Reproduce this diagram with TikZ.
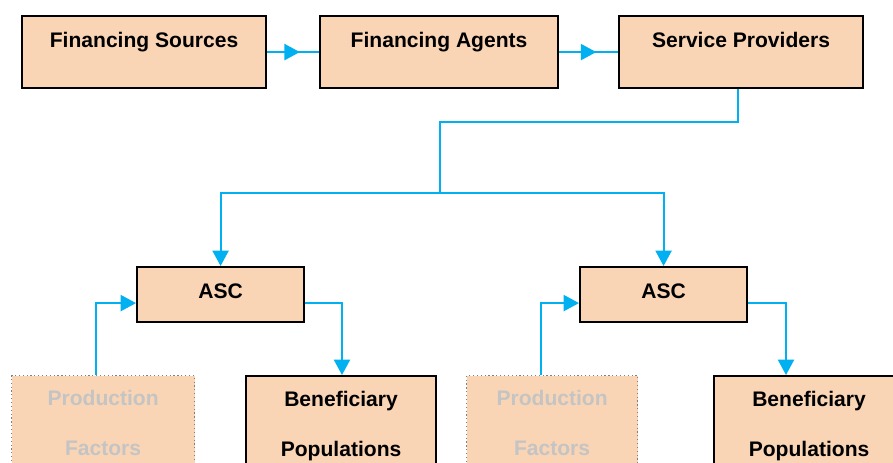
\documentclass[tikz,border=0pt]{standalone}
\usepackage{fontspec}
\setmainfont{Liberation Sans}
\usetikzlibrary{arrows.meta,decorations.markings,calc}

\definecolor{peach}{RGB}{250,213,181}
\definecolor{flowblue}{RGB}{0,176,240}
\definecolor{paletext}{RGB}{196,196,196}

\tikzset{
  box/.style={draw, line width=1.6pt, fill=peach, anchor=north west, inner sep=0pt,
    font=\fontsize{15.8}{37.5}\selectfont\bfseries},
  flatbox/.style={box, text height=23.25pt, text depth=30.75pt},
  ascbox/.style={box, text height=23.25pt, text depth=18pt},
  tallbox/.style={box, align=center, inner ysep=11pt},
  faintbox/.style={tallbox, draw=gray, line width=0.9pt, dotted, text=paletext},
  flow/.style={draw=flowblue, line width=1.5pt, -{Triangle[length=11.5pt,width=12pt]}},
  link/.style={draw=flowblue, line width=1.5pt},
  midarrow/.style={link, postaction={decorate}, decoration={markings,
    mark=at position 0.63 with {\arrow[flowblue]{Triangle[length=11.5pt,width=12pt]}}}}
}

\begin{document}
\begin{tikzpicture}[x=0.75pt, y=-0.75pt]
  \useasboundingbox (0,0) rectangle (893,462);
  \clip (0,0) rectangle (893,462);

  % top row
  \node[flatbox, minimum width=183pt] (src) at (21,15) {Financing Sources};
  \node[flatbox, minimum width=178.5pt] (agt) at (319,15) {Financing Agents};
  \node[flatbox, minimum width=183pt] (prov) at (618,15) {Service Providers};

  % ASC level
  \node[ascbox, minimum width=125.25pt] (ascL) at (136,266) {ASC};
  \node[ascbox, minimum width=125.25pt] (ascR) at (579,266) {ASC};

  % bottom row
  \node[faintbox, minimum width=137.25pt] (prodL) at (11,375) {Production\\Factors};
  \node[tallbox, minimum width=142.5pt] (benL) at (245,375) {Beneficiary\\Populations};
  \node[faintbox, minimum width=128.25pt] (prodR) at (466,375) {Production\\Factors};
  \node[tallbox, minimum width=142.5pt] (benR) at (713,375) {Beneficiary\\Populations};

  \coordinate (bend) at (440,122);
  \coordinate (hub) at (440,193);

  \draw[midarrow] (src.east) -- (agt.west);
  \draw[midarrow] (agt.east) -- (prov.west);
  \draw[link] ($(prov.south)+(-3,0)$) |- (bend) -- (hub);
  \draw[flow] (hub) -| (ascL.north);
  \draw[flow] (hub) -| (ascR.north);

  \draw[flow] ($(prodL.north)+(-7,0)$) |- ($(ascL.west)+(0,8.5)$);
  \draw[flow] ($(ascL.east)+(0,8.5)$) -| ($(benL.north west)+(97,0)$);
  \draw[flow] ($(prodR.north)+(-11.5,0)$) |- ($(ascR.west)+(0,8.5)$);
  \draw[flow] ($(ascR.east)+(0,8.5)$) -| ($(benR.north west)+(73,0)$);
\end{tikzpicture}
\end{document}
